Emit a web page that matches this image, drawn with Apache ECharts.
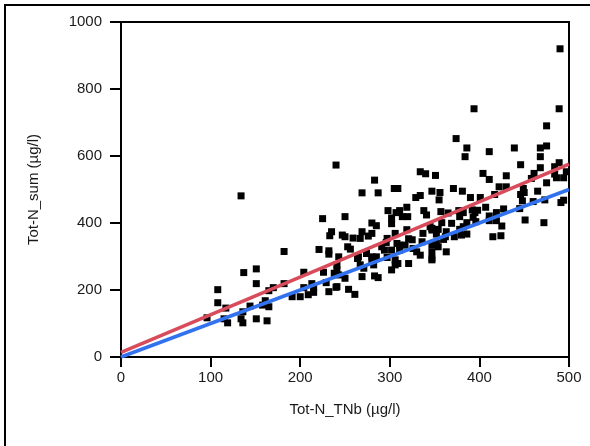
<!DOCTYPE html>
<html><head><meta charset="utf-8">
<script src="https://cdn.jsdelivr.net/npm/echarts@6/dist/echarts.min.js"></script>
<style>html,body{margin:0;padding:0;background:#fff}#c{width:590px;height:446px}</style>
</head><body><div id="c"></div>
<script>
const tnb = [96,108,108,115,117,119,134,136,136,134,137,144,151,151,151,158,161,163,165,170,165,
182,182,191,200,204,204,209,213,215,215,221,225,226,229,232,232,232,233,235,238,240,241,240,241,243,243,241,247,250,250,250,253,256,254,
259,261,264,265,267,267,269,269,269,271,274,276,280,280,280,280,282,283,283,285,285,287,287,291,294,297,297,298,296,302,302,302,302,305,306,308,306,306,307,309,309,311,311,311,314,317,319,320,319,321,325,321,326,329,330,334,334,334,336,337,338,340,341,345,347,347,347,347,347,347,347,351,352,352,354,354,355,356,357,358,360,362,363,363,365,369,371,372,374,377,378,378,380,381,382,382,384,386,386,386,390,392,393,394,395,398,396,401,404,407,411,411,411,411,415,417,419,419,422,424,425,427,430,430,439,445,446,446,448,449,450,451,458,460,461,465,468,468,468,472,473,475,475,475,484,484,486,489,489,490,491,494,494,497];
const totSum = [117,201,162,114,146,102,114,102,135,481,252,152,263,219,114,155,168,108,198,207,150,
315,219,180,180,253,207,186,219,208,193,321,413,253,222,317,307,195,362,374,250,208,260,573,275,299,245,210,364,419,359,235,329,322,202,
355,187,294,299,354,275,374,490,240,265,309,361,400,369,299,290,275,528,242,392,299,490,237,329,319,354,297,437,342,415,398,319,260,503,369,339,290,275,431,503,279,437,334,319,419,334,447,419,380,353,350,279,324,476,314,482,304,553,344,369,437,547,424,389,379,495,334,294,384,314,290,542,367,339,381,329,469,491,434,401,351,359,374,314,430,399,503,359,652,437,419,381,364,495,431,389,598,624,401,367,476,439,417,741,431,438,404,476,548,447,613,530,421,407,359,485,431,407,508,362,391,442,541,508,624,443,574,485,466,503,491,409,533,464,548,495,624,598,565,401,469,690,630,520,568,546,535,741,580,920,461,468,535,553];
const lineX = [0, 500];
const oneToOne = [0, 500];
const regression = [14, 576];
const xTicks = [0, 100, 200, 300, 400, 500];
const yTicks = [0, 200, 400, 600, 800, 1000];

const font = 'Liberation Sans, Arial, sans-serif';
const chart = echarts.init(document.getElementById('c'), null, {renderer: 'canvas'});
chart.setOption({
  animation: false,
  backgroundColor: '#fff',
  graphic: [{type: 'rect', shape: {x: 5, y: 5, width: 700, height: 700}, style: {fill: 'none', stroke: '#000', lineWidth: 2}, z: 100}],
  grid: {left: 121, right: 21, top: 22, bottom: 89, show: true, borderColor: '#000', borderWidth: 2, backgroundColor: 'transparent'},
  xAxis: {
    type: 'value', min: 0, max: 500, interval: 100,
    name: 'Tot-N_TNb (µg/l)', nameLocation: 'middle', nameGap: 45,
    nameTextStyle: {fontFamily: font, fontSize: 15, color: '#1a1a1a'},
    axisLine: {show: true, onZero: false, lineStyle: {color: '#000', width: 2}},
    axisTick: {show: true, inside: false, length: 10, lineStyle: {color: '#000', width: 2}},
    axisLabel: {margin: 13, fontFamily: font, fontSize: 15, color: '#1a1a1a', formatter: v => xTicks.includes(v) ? String(v) : ''},
    splitLine: {show: false}
  },
  yAxis: {
    type: 'value', min: 0, max: 1000, interval: 200,
    name: 'Tot-N_sum (µg/l)', nameLocation: 'middle', nameGap: 80,
    nameTextStyle: {fontFamily: font, fontSize: 15, color: '#1a1a1a'},
    axisLine: {show: true, onZero: false, lineStyle: {color: '#000', width: 2}},
    axisTick: {show: true, inside: false, length: 11, lineStyle: {color: '#000', width: 2}},
    axisLabel: {margin: 19, fontFamily: font, fontSize: 15, color: '#1a1a1a', formatter: v => yTicks.includes(v) ? String(v) : ''},
    splitLine: {show: false}
  },
  series: [
    {type: 'scatter', symbol: 'rect', symbolSize: 7, itemStyle: {color: '#000', opacity: 1},
     data: tnb.map((x, i) => [x, totSum[i]]), z: 2},
    {type: 'line', data: lineX.map((x, i) => [x, oneToOne[i]]), symbol: 'none',
     lineStyle: {color: '#3372ee', width: 3.5}, z: 3},
    {type: 'line', data: lineX.map((x, i) => [x, regression[i]]), symbol: 'none',
     lineStyle: {color: '#d84b5b', width: 3.5}, z: 4}
  ]
});
</script></body></html>
